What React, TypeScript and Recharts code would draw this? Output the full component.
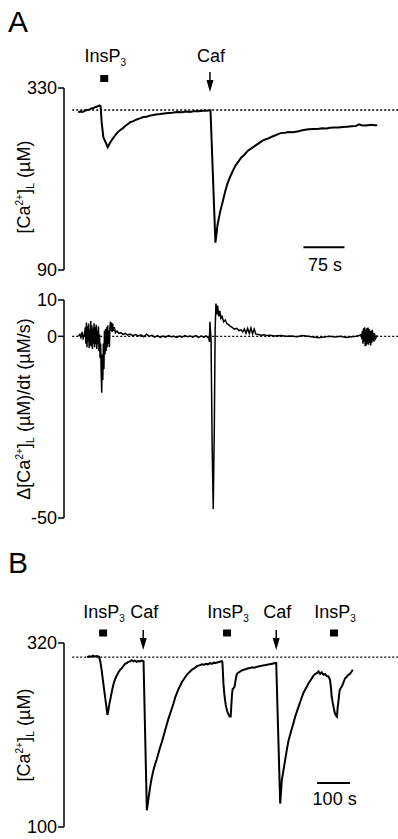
import React from 'react';
import { LineChart, Line, XAxis, YAxis, ReferenceLine, ReferenceDot, Label } from 'recharts';

const FONT = '"Liberation Sans", Arial, Helvetica, sans-serif';

// ---------- Panel A (top): luminal [Ca2+] (µM) vs time (s)
const aTime = [0, 4, 8, 12, 16, 20, 24, 28, 32, 36, 39, 41, 43, 46, 51, 54, 58, 63, 68, 72, 77, 82, 86, 90, 95, 100, 107, 113, 119, 125, 130, 135, 142, 150, 157, 165, 172, 181, 190, 198, 205, 212, 220, 228, 235, 242, 251, 255, 260, 265, 269, 273, 278, 283, 288, 293, 298, 304, 310, 316, 322, 330, 338, 346, 355, 362, 370, 378, 385, 392, 401, 408, 415, 422, 430, 438, 446, 454, 461, 468, 476, 484, 492, 500, 508, 514, 518, 524, 530, 536, 542, 547];
const aCa = [298, 299, 298.5, 300, 301, 301.5, 303, 303.5, 305, 306, 307, 306, 284, 265, 257, 252, 257.5, 263, 268, 271.5, 274.6, 277, 280, 282, 285, 286, 288.5, 290, 291.8, 292, 293.5, 294, 295, 295.7, 296.5, 297, 297.5, 298.4, 298, 299, 298.5, 299.5, 299.5, 300, 300, 300.5, 126, 150, 168, 182, 194, 204, 213, 221, 228, 233, 238, 242, 247, 250, 253, 257, 261, 263, 266, 268, 270.5, 271, 272, 271.5, 272.5, 274, 275, 275.5, 276, 276, 277, 276.5, 277.5, 278, 278, 278.5, 279, 279.5, 280, 282, 281, 280.5, 281, 281.5, 281, 281];

// ---------- Panel A (bottom): d[Ca2+]/dt (µM/s) vs time (s)
const dTime = [0, 3, 5, 7, 9, 11, 13, 14, 15, 16, 17, 18, 19, 20, 21, 22, 23, 24, 25, 26, 27, 28, 29, 30, 31, 32, 33, 34, 35, 36, 37, 38, 39, 40, 41, 42, 43, 44, 45, 46, 47, 48, 49, 50, 51, 52, 53, 54, 55, 56, 57, 58, 59, 60, 61, 62, 63, 64, 66, 68, 71, 74, 78, 82, 86, 90, 95, 100, 105, 110, 115, 120, 125, 130, 135, 140, 145, 150, 155, 160, 165, 170, 175, 180, 185, 190, 195, 200, 205, 210, 215, 220, 225, 230, 234, 237, 239, 240, 241, 243, 245, 247, 249, 250.5, 252, 253.5, 255, 257, 259, 261, 263, 266, 269, 272, 275, 278, 282, 286, 290, 294, 298, 301, 304, 307, 310, 313, 316, 319, 322, 325, 330, 335, 340, 345, 350, 360, 370, 380, 390, 400, 410, 420, 430, 440, 450, 460, 470, 480, 490, 500, 508, 514, 518, 519, 520, 521, 522, 523, 524, 525, 526, 527, 528, 529, 530, 531, 532, 533, 534, 535, 536, 537, 538, 539, 540, 541, 542, 544, 547];
const dRate = [0, 0.5, -0.3, 1.2, -0.5, 0.3, 2.5, -2, 3.8, -3, 2.8, -1.5, 3.5, -3.2, 2, -2.5, 4.2, -2.8, 3, -3.5, 2.2, -2, 3.6, -3, 2.5, -2.2, 3.2, -3.5, 1.5, -2, 2.8, -4, 0.5, -6, -2, -10, -15.5, -5, -12, -2, -9, 1.5, -5, 2, -4, 2.5, -3, 3, -2, 1.5, -3, 2.5, 4, 1.5, 3.8, 1.2, 3.5, 1.5, 2.5, 1, 1.5, 0.8, 1, 0.5, 0.8, 0.4, 0.6, 0.2, 0.5, 0.1, 0.4, -0.1, 0.6, 0, 0.3, -0.2, 0.2, -0.3, 0.1, -0.2, 0.2, -0.1, 0, -0.3, 0.1, -0.2, 0.2, -0.1, 0.1, -0.2, 0.2, -0.3, 0.1, -0.2, 0.1, -0.3, -0.5, -1.5, 4, -1, -30, -47.5, -25, 2, 9, 6, 8.5, 5.5, 7, 5, 5.5, 4, 4.5, 3.5, 3.2, 2.8, 2.4, 2, 2.2, 1.6, 1.8, 1.2, 2, 0.9, 2.2, 0.8, 2.3, 0.7, 2, 0.6, 0.5, 0.3, 0.4, 0.2, 0.3, 0.1, 0.2, 0, 0.1, -0.1, 0.2, 0, -0.2, -0.4, -0.2, 0, -0.2, 0, -0.3, -0.1, 0, 0.2, 0.5, -0.8, 1.5, -2, 2.2, -1.5, 2.5, -2.7, 1.8, -2.5, 2.2, -2, 2.4, -2.3, 2, -1.8, 1.5, -2.5, 1.5, -1.8, 1.8, -1.2, 1, -1.5, 0.8, -0.6, 0.3, 0];

// ---------- Panel B: luminal [Ca2+] (µM) vs time (s)
const bTime = [0, 6, 12, 18, 24, 30, 36, 40, 44, 48, 52, 56, 59, 61.5, 64, 67, 70, 75, 80, 85, 90, 95, 100, 105, 110, 115, 120, 125, 130, 135, 140, 145, 150, 155, 160, 165, 169, 171, 181, 186, 191, 196, 201, 206, 211, 216, 221, 226, 231, 236, 241, 246, 252, 257, 262, 267, 272, 277, 282, 287, 292, 297, 302, 307, 312, 317, 322, 327, 332, 337, 342, 348, 354, 360, 366, 372, 378, 384, 390, 396, 402, 408, 410, 413, 416, 420, 424, 428, 432, 435, 437, 439, 441, 444, 447, 450, 453, 456, 462, 468, 474, 480, 486, 494, 500, 507, 513, 519, 525, 532, 538, 545, 552, 558, 564, 570, 573, 585, 590, 595, 600, 605, 610, 617, 625, 632, 640, 647, 655, 663, 671, 678, 686, 691, 696, 701, 706, 711, 716, 721, 726, 731, 736, 739, 741, 744, 747, 750, 753, 757, 759, 762, 765, 768, 772, 776, 779, 782, 786, 789, 792, 796, 800, 805];
const bCa = [303, 304, 303.5, 305, 304, 304.5, 303.5, 298, 288, 275, 263, 251, 242, 234, 238, 246, 252, 262, 271, 277, 281, 285, 288, 290, 292.5, 295, 296, 297.5, 298, 299.5, 298, 299, 297.5, 298.5, 298, 299, 298.5, 298, 120, 134, 148, 159, 168, 175, 181, 188, 195, 201, 208, 215, 222, 229, 236, 242, 248, 255, 260, 265, 269, 273, 276, 279, 282, 284, 286, 288, 289, 290.5, 292, 293, 293.5, 294.5, 294, 295, 294.5, 296, 295, 296.5, 296, 297, 297.5, 298.5, 297, 272, 258, 246, 239, 235, 232, 232, 245, 258, 265, 266, 268, 276, 282, 284, 285.5, 287, 288, 288.5, 289.5, 290, 291, 290.5, 291.5, 292, 292.5, 293, 293.5, 294, 294.5, 295, 295.5, 296, 296, 128, 156, 168, 180, 192, 203, 213, 224, 234, 243, 251, 260, 266, 272, 276, 281, 283, 284, 286, 283, 285, 282, 283, 280.5, 280, 276, 266, 256, 249, 243, 237, 234, 232, 242, 252, 263, 266, 268, 272, 275, 278, 279, 281, 282, 283, 285, 288];

const aTicks = [90, 330];
const dTicks = [-50, 0, 10];
const bTicks = [100, 320];

const aBaseline = 301;
const bBaseline = 303;

const aEvents = [
  { t: 47.6, label: 'InsP3', kind: 'bar' },
  { t: 241, label: 'Caf', kind: 'arrow' },
];
const bEvents = [
  { t: 48.5, label: 'InsP3', kind: 'bar' },
  { t: 170, label: 'Caf', kind: 'arrow' },
  { t: 424, label: 'InsP3', kind: 'bar' },
  { t: 573, label: 'Caf', kind: 'arrow' },
  { t: 748, label: 'InsP3', kind: 'bar' },
];

const aScaleBar = { start: 412, length: 75, level: 120, text: '75 s' };
const bScaleBar = { start: 697, length: 100, level: 152.6, text: '100 s' };

const aDomainX = [-26, 585];
const bDomainX = [-70, 942];

const LABEL_FS = 18;

function eventShape(ev: any, o: any) {
  return (props: any) => {
    const { cx, cy } = props;
    const m = ev.label.match(/^(.*?)(\d)$/);
    return (
      <g>
        <text x={cx + 1} y={cy + o.textY} textAnchor="middle" fontSize={LABEL_FS} fontFamily={FONT} fill="#000">
          {m ? (
            <>
              {m[1]}
              <tspan dy={4} fontSize={10}>{m[2]}</tspan>
            </>
          ) : (
            ev.label
          )}
        </text>
        {ev.kind === 'bar' ? (
          <rect x={cx - 4} y={cy + o.squareY - 3.5} width={8} height={7} fill="#000" />
        ) : (
          <g>
            <line x1={cx} x2={cx} y1={cy + o.arrowTop} y2={cy + o.arrowTip - 10} stroke="#000" strokeWidth={1.5} />
            <path
              d={`M${cx - 3.5},${cy + o.arrowTip - 12} L${cx + 3.5},${cy + o.arrowTip - 12} L${cx},${cy + o.arrowTip} Z`}
              fill="#000"
            />
          </g>
        )}
      </g>
    );
  };
}

function scaleTextShape(text: string, dy: number) {
  return (props: any) => (
    <text x={props.cx + 1} y={props.cy + dy} textAnchor="middle" fontSize={LABEL_FS} fontFamily={FONT} fill="#000">
      {text}
    </text>
  );
}

function axisTitle(kind: 'conc' | 'rate', shift: number) {
  return (props: any) => {
    const vb = props.viewBox || { x: 0, y: 0, width: 64, height: 100 };
    const x = vb.x + 30;
    const y = vb.y + vb.height / 2 + shift;
    return (
      <text
        x={x}
        y={y}
        transform={`rotate(-90, ${x}, ${y})`}
        textAnchor="middle"
        fontSize={LABEL_FS}
        fontFamily={FONT}
        fill="#000"
      >
        {kind === 'rate' ? 'Δ[Ca' : '[Ca'}
        <tspan dy={-7} fontSize={10}>2+</tspan>
        <tspan dy={7}>]</tspan>
        <tspan dy={4} fontSize={11}>L</tspan>
        <tspan dy={-4}>{kind === 'rate' ? ' (µM)/dt (µM/s)' : ' (µM)'}</tspan>
      </text>
    );
  };
}

const tickStyle = { fill: '#000', fontSize: LABEL_FS, fontFamily: FONT };

export default function App() {
  const aData = aTime.map((t, i) => ({ t, v: aCa[i] }));
  const dData = dTime.map((t, i) => ({ t, v: dRate[i] }));
  const bData = bTime.map((t, i) => ({ t, v: bCa[i] }));

  const aOff = { textY: -26, squareY: -9.5, arrowTop: -16, arrowTip: 4 };
  const bOff = { textY: -25, squareY: -10, arrowTop: -13, arrowTip: 7 };

  return (
    <div style={{ position: 'absolute', left: 0, top: 0, width: 398, height: 839, background: '#fff', fontFamily: FONT }}>
      <svg width={398} height={839} style={{ position: 'absolute', left: 0, top: 0 }}>
        <text x={8} y={32} fontSize={30} fontFamily={FONT} fill="#000">A</text>
        <text x={8} y={573} fontSize={30} fontFamily={FONT} fill="#000">B</text>
      </svg>

      {/* Panel A top */}
      <div style={{ position: 'absolute', left: 0, top: 0 }}>
        <LineChart width={398} height={290} data={aData} margin={{ top: 88, right: 0, bottom: 20, left: 0 }}>
          <XAxis type="number" dataKey="t" domain={aDomainX} hide allowDataOverflow />
          <YAxis
            type="number"
            domain={[aTicks[0], aTicks[aTicks.length - 1]]}
            ticks={aTicks}
            interval={0}
            width={64}
            tickSize={6}
            tickMargin={1}
            tick={tickStyle}
            axisLine={{ stroke: '#000', strokeWidth: 1.5 }}
            tickLine={{ stroke: '#000', strokeWidth: 1.5 }}
            allowDataOverflow
          >
            <Label content={axisTitle('conc', 8)} />
          </YAxis>
          <ReferenceLine
            segment={[{ x: -11, y: aBaseline }, { x: aDomainX[1], y: aBaseline }]}
            stroke="#000"
            strokeWidth={1.3}
            strokeDasharray="2 2"
            ifOverflow="visible"
          />
          <Line type="linear" dataKey="v" stroke="#000" strokeWidth={2} dot={false} activeDot={false} isAnimationActive={false} />
          {aEvents.map((ev, i) => (
            <ReferenceDot key={i} x={ev.t} y={aTicks[aTicks.length - 1]} r={0} ifOverflow="visible" shape={eventShape(ev, aOff)} />
          ))}
          <ReferenceLine
            segment={[{ x: aScaleBar.start, y: aScaleBar.level }, { x: aScaleBar.start + aScaleBar.length, y: aScaleBar.level }]}
            stroke="#000"
            strokeWidth={2}
            ifOverflow="visible"
          />
          <ReferenceDot
            x={aScaleBar.start + aScaleBar.length / 2}
            y={aScaleBar.level}
            r={0}
            ifOverflow="visible"
            shape={scaleTextShape(aScaleBar.text, 24)}
          />
        </LineChart>
      </div>

      {/* Panel A bottom */}
      <div style={{ position: 'absolute', left: 0, top: 280 }}>
        <LineChart width={398} height={260} data={dData} margin={{ top: 20, right: 0, bottom: 22, left: 0 }}>
          <XAxis type="number" dataKey="t" domain={aDomainX} hide allowDataOverflow />
          <YAxis
            type="number"
            domain={[dTicks[0], dTicks[dTicks.length - 1]]}
            ticks={dTicks}
            interval={0}
            width={64}
            tickSize={6}
            tickMargin={1}
            tick={tickStyle}
            axisLine={{ stroke: '#000', strokeWidth: 1.5 }}
            tickLine={{ stroke: '#000', strokeWidth: 1.5 }}
            allowDataOverflow
          >
            <Label content={axisTitle('rate', 0)} />
          </YAxis>
          <ReferenceLine
            segment={[{ x: -11, y: 0 }, { x: aDomainX[1], y: 0 }]}
            stroke="#000"
            strokeWidth={1.3}
            strokeDasharray="2 2"
            ifOverflow="visible"
          />
          <Line type="linear" dataKey="v" stroke="#000" strokeWidth={1.5} dot={false} activeDot={false} isAnimationActive={false} />
        </LineChart>
      </div>

      {/* Panel B */}
      <div style={{ position: 'absolute', left: 0, top: 540 }}>
        <LineChart width={398} height={299} data={bData} margin={{ top: 103, right: 0, bottom: 12, left: 0 }}>
          <XAxis type="number" dataKey="t" domain={bDomainX} hide allowDataOverflow />
          <YAxis
            type="number"
            domain={[bTicks[0], bTicks[bTicks.length - 1]]}
            ticks={bTicks}
            interval={0}
            width={64}
            tickSize={6}
            tickMargin={1}
            tick={tickStyle}
            axisLine={{ stroke: '#000', strokeWidth: 1.5 }}
            tickLine={{ stroke: '#000', strokeWidth: 1.5 }}
            allowDataOverflow
          >
            <Label content={axisTitle('conc', 0)} />
          </YAxis>
          <ReferenceLine
            segment={[{ x: -45, y: bBaseline }, { x: bDomainX[1], y: bBaseline }]}
            stroke="#000"
            strokeWidth={1.3}
            strokeDasharray="2 2"
            ifOverflow="visible"
          />
          <Line type="linear" dataKey="v" stroke="#000" strokeWidth={2} dot={false} activeDot={false} isAnimationActive={false} />
          {bEvents.map((ev, i) => (
            <ReferenceDot key={i} x={ev.t} y={bTicks[bTicks.length - 1]} r={0} ifOverflow="visible" shape={eventShape(ev, bOff)} />
          ))}
          <ReferenceLine
            segment={[{ x: bScaleBar.start, y: bScaleBar.level }, { x: bScaleBar.start + bScaleBar.length, y: bScaleBar.level }]}
            stroke="#000"
            strokeWidth={2}
            ifOverflow="visible"
          />
          <ReferenceDot
            x={bScaleBar.start + bScaleBar.length / 2}
            y={bScaleBar.level}
            r={0}
            ifOverflow="visible"
            shape={scaleTextShape(bScaleBar.text, 22)}
          />
        </LineChart>
      </div>
    </div>
  );
}
